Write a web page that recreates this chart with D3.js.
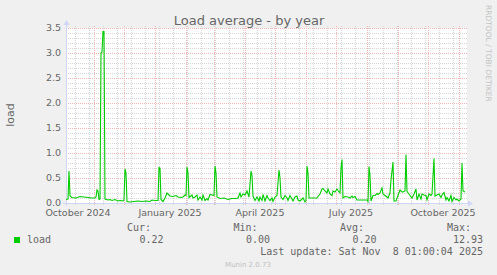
<!DOCTYPE html>
<html><head><meta charset="utf-8">
<script src="https://cdn.jsdelivr.net/npm/d3@7"></script>
<style>html,body{margin:0;padding:0;background:#f0f0f0;}svg{display:block;}</style>
</head><body>
<svg id="chart" width="497" height="275"></svg>
<script>
const title = "Load average - by year";
const yLabel = "load";
const dates = [
"2024-10-04","2024-10-06","2024-10-07","2024-10-08","2024-10-10","2024-10-14","2024-10-18","2024-10-22","2024-10-26","2024-10-30",
"2024-11-02","2024-11-03","2024-11-04","2024-11-05","2024-11-06","2024-11-07","2024-11-08","2024-11-09","2024-11-10","2024-11-11",
"2024-11-12","2024-11-15","2024-11-17","2024-11-19","2024-11-22","2024-11-25","2024-11-27","2024-11-30","2024-12-01","2024-12-02",
"2024-12-03","2024-12-04","2024-12-07","2024-12-11","2024-12-15","2024-12-19","2024-12-23","2024-12-27","2024-12-29","2025-01-01",
"2025-01-04","2025-01-05","2025-01-06","2025-01-07","2025-01-09","2025-01-11","2025-01-13","2025-01-16","2025-01-19","2025-01-22",
"2025-01-24","2025-01-27","2025-01-29","2025-01-31","2025-02-01","2025-02-02","2025-02-03","2025-02-04","2025-02-07","2025-02-08",
"2025-02-10","2025-02-12","2025-02-13","2025-02-15","2025-02-17","2025-02-18","2025-02-20","2025-02-22","2025-02-23","2025-02-25",
"2025-02-27","2025-03-01","2025-03-02","2025-03-03","2025-03-04","2025-03-07","2025-03-11","2025-03-15","2025-03-19","2025-03-23",
"2025-03-25","2025-03-27","2025-03-28","2025-03-30","2025-04-01","2025-04-03","2025-04-05","2025-04-07","2025-04-08","2025-04-09",
"2025-04-11","2025-04-13","2025-04-15","2025-04-16","2025-04-18","2025-04-19","2025-04-21","2025-04-23","2025-04-24","2025-04-26",
"2025-04-28","2025-04-29","2025-05-01","2025-05-03","2025-05-05","2025-05-06","2025-05-07","2025-05-09","2025-05-11","2025-05-13",
"2025-05-14","2025-05-16","2025-05-18","2025-05-19","2025-05-21","2025-05-23","2025-05-24","2025-05-26","2025-05-28","2025-05-29",
"2025-05-31","2025-06-01","2025-06-02","2025-06-03","2025-06-04","2025-06-07","2025-06-12","2025-06-13","2025-06-15","2025-06-17",
"2025-06-18","2025-06-20","2025-06-22","2025-06-23","2025-06-25","2025-06-27","2025-06-28","2025-06-30","2025-07-02","2025-07-03",
"2025-07-05","2025-07-06","2025-07-07","2025-07-08","2025-07-10","2025-07-13","2025-07-15","2025-07-17","2025-07-18","2025-07-20",
"2025-07-22","2025-08-01","2025-08-02","2025-08-03","2025-08-04","2025-08-05","2025-08-07","2025-08-09","2025-08-11","2025-08-12",
"2025-08-14","2025-08-16","2025-08-17","2025-08-19","2025-08-21","2025-08-22","2025-08-24","2025-08-25","2025-08-27","2025-08-28",
"2025-08-30","2025-09-01","2025-09-03","2025-09-05","2025-09-06","2025-09-08","2025-09-09","2025-09-10","2025-09-12","2025-09-14",
"2025-09-15","2025-09-17","2025-09-19","2025-09-20","2025-09-22","2025-09-24","2025-09-25","2025-09-27","2025-09-29","2025-09-30",
"2025-10-02","2025-10-04","2025-10-05","2025-10-07","2025-10-08","2025-10-10","2025-10-12","2025-10-14","2025-10-15","2025-10-17",
"2025-10-19","2025-10-20","2025-10-22","2025-10-24","2025-10-25","2025-10-27","2025-10-29","2025-10-30","2025-11-01","2025-11-03",
"2025-11-04","2025-11-05","2025-11-07"
];
const loads = [
0.07,0.08,0.64,0.14,0.11,0.10,0.13,0.12,0.11,0.10,
0.10,0.12,0.26,0.24,0.07,0.08,3.00,3.02,3.43,3.43,
0.08,0.06,0.07,0.05,0.07,0.04,0.05,0.04,0.06,0.68,
0.60,0.03,0.02,0.03,0.04,0.03,0.04,0.03,0.06,0.05,
0.05,0.71,0.70,0.07,0.03,0.10,0.20,0.14,0.13,0.15,
0.12,0.11,0.12,0.16,0.15,0.72,0.60,0.11,0.16,0.10,
0.12,0.16,0.06,0.12,0.06,0.16,0.05,0.09,0.06,0.17,
0.16,0.15,0.74,0.60,0.12,0.09,0.10,0.07,0.09,0.09,
0.10,0.20,0.12,0.18,0.16,0.24,0.12,0.64,0.55,0.14,
0.05,0.12,0.04,0.12,0.05,0.17,0.04,0.15,0.10,0.05,
0.10,0.03,0.12,0.15,0.66,0.50,0.12,0.07,0.15,0.10,
0.05,0.15,0.08,0.04,0.12,0.14,0.06,0.04,0.08,0.10,
0.02,0.05,0.74,0.60,0.10,0.10,0.10,0.13,0.18,0.28,
0.29,0.24,0.20,0.28,0.18,0.15,0.24,0.22,0.28,0.25,
0.20,0.70,0.87,0.10,0.13,0.12,0.10,0.14,0.11,0.13,
0.06,0.06,0.03,0.73,0.55,0.04,0.15,0.15,0.19,0.17,
0.20,0.30,0.18,0.15,0.12,0.10,0.20,0.46,0.82,0.04,
0.04,0.15,0.26,0.22,0.22,0.24,0.97,0.23,0.18,0.12,
0.10,0.18,0.28,0.06,0.18,0.08,0.18,0.16,0.15,0.06,
0.18,0.15,0.18,0.89,0.14,0.16,0.18,0.11,0.16,0.21,
0.06,0.11,0.04,0.15,0.03,0.11,0.06,0.08,0.04,0.08,
0.80,0.24,0.22
];
const yTicks = [0, 0.5, 1.0, 1.5, 2.0, 2.5, 3.0, 3.5];
const yTickLabels = ["0.0","0.5","1.0","1.5","2.0","2.5","3.0","3.5"];
const xLabelDates = ["2024-10-16","2025-01-16","2025-04-16","2025-07-16","2025-10-16"];
const xLabels = ["October 2024","January 2025","April 2025","July 2025","October 2025"];
const legendName = "load";
const legendHeads = ["Cur:","Min:","Avg:","Max:"];
const legendValues = ["0.22","0.00","0.20","12.93"];
const lastUpdate = "Last update: Sat Nov  8 01:00:04 2025";
const credit = "Munin 2.0.73";
const watermark = "RRDTOOL / TOBI OETIKER";
const rangeStart = "2024-10-04", rangeEnd = "2025-11-08";

const parse = d3.utcParse("%Y-%m-%d");
const svg = d3.select("#chart");
const L = 66, R = 466, T = 28, B = 203;
const x = d3.scaleUtc().domain([parse(rangeStart), parse(rangeEnd)]).range([L, R]);
const y = d3.scaleLinear().domain([0, 3.5]).range([B, T]);

const gridGrey = "#d6d6d6", gridRed = "#f0b6b6", axisCol = "#cfd6f8", font = "#666666";
const sans = "DejaVu Sans", mono = "DejaVu Sans Mono";

svg.append("rect").attr("width",497).attr("height",275).attr("fill","#f0f0f0");
svg.append("rect").attr("x",L).attr("y",T).attr("width",R-L+1).attr("height",B-T).attr("fill","#ffffff");

const grid = svg.append("g").attr("stroke-dasharray","1,1").attr("shape-rendering","crispEdges");
const minorY = d3.range(1, 36).filter(i => i % 5 !== 0).map(i => i / 10);
grid.selectAll(".hm").data(minorY).enter().append("line")
  .attr("x1", L).attr("x2", R+2).attr("y1", d => Math.round(y(d))+0.5).attr("y2", d => Math.round(y(d))+0.5)
  .attr("stroke", gridGrey);
const minorX = [];
for (let t = parse("2025-10-26"); t > x.domain()[0]; t = d3.utcDay.offset(t, -14)) minorX.push(t);
grid.selectAll(".vm").data(minorX).enter().append("line")
  .attr("x1", d => Math.round(x(d))+0.5).attr("x2", d => Math.round(x(d))+0.5).attr("y1", T-2).attr("y2", B+2)
  .attr("stroke", gridGrey);
grid.selectAll(".hM").data(yTicks.filter(d => d > 0)).enter().append("line")
  .attr("x1", L).attr("x2", R+2).attr("y1", d => Math.round(y(d))+0.5).attr("y2", d => Math.round(y(d))+0.5)
  .attr("stroke", gridRed);
const months = d3.utcMonth.range(x.domain()[0], x.domain()[1]);
grid.selectAll(".vM").data(months).enter().append("line")
  .attr("x1", d => Math.round(x(d))+0.5).attr("x2", d => Math.round(x(d))+0.5).attr("y1", T-2).attr("y2", B+2)
  .attr("stroke", gridRed);

svg.append("g").selectAll("text").data(yTicks).enter().append("text")
  .attr("x", 61).attr("y", d => y(d)).attr("dy","0.34em").attr("text-anchor","end")
  .attr("font-family", sans).attr("font-size", 9.5).attr("fill", font)
  .text((d,i) => yTickLabels[i]);
svg.append("g").selectAll("text").data(xLabelDates).enter().append("text")
  .attr("x", d => x(parse(d))).attr("y", 216).attr("text-anchor","middle")
  .attr("font-family", sans).attr("font-size", 9.5).attr("fill", font)
  .text((d,i) => xLabels[i]);

svg.append("line").attr("x1", L+0.5).attr("x2", L+0.5).attr("y1", B+3).attr("y2", T-4).attr("stroke", axisCol);
svg.append("line").attr("x1", L-3).attr("x2", R+3).attr("y1", B+0.5).attr("y2", B+0.5).attr("stroke", axisCol);
svg.append("path").attr("d", `M${L-2.5},${T-3} L${L+3.5},${T-3} L${L+0.5},${T-8} Z`).attr("fill", axisCol);
svg.append("path").attr("d", `M${R+2},${B-2.5} L${R+2},${B+3.5} L${R+7},${B+0.5} Z`).attr("fill", axisCol);

const pts = dates.map((d,i) => ({t: parse(d), v: loads[i]}));
const line = d3.line().x(d => x(d.t)).y(d => y(d.v));
svg.append("path").datum(pts).attr("d", line).attr("fill","none").attr("stroke","#00cc00").attr("stroke-width",1.1);

svg.append("text").attr("x", 249).attr("y", 25).attr("text-anchor","middle")
  .attr("font-family", sans).attr("font-size", 13).attr("fill", font).text(title);
svg.append("text").attr("transform","translate(14,115) rotate(-90)").attr("text-anchor","middle")
  .attr("font-family", sans).attr("font-size", 11).attr("fill", font).text(yLabel);
svg.append("text").attr("transform","translate(486,5) rotate(90)").attr("text-anchor","start")
  .attr("font-family", sans).attr("font-size", 7.5).attr("fill", "#c4c4c4").text(watermark);

svg.append("rect").attr("x",14).attr("y",237).attr("width",6).attr("height",6).attr("fill","#00cc00");
svg.append("text").attr("x",27).attr("y",243).attr("font-family",mono).attr("font-size",10).attr("fill",font).text(legendName);
const headX = [151, 257.5, 364, 471];
const valX = [163.5, 270, 376.5, 483];
svg.append("g").selectAll("text").data(legendHeads).enter().append("text")
  .attr("x",(d,i)=>headX[i]).attr("y",230.5).attr("text-anchor","end")
  .attr("font-family",mono).attr("font-size",10).attr("fill",font).text(d=>d);
svg.append("g").selectAll("text").data(legendValues).enter().append("text")
  .attr("x",(d,i)=>valX[i]).attr("y",243).attr("text-anchor","end")
  .attr("font-family",mono).attr("font-size",10).attr("fill",font).text(d=>d);
svg.append("text").attr("x",483).attr("y",255).attr("text-anchor","end").attr("xml:space","preserve")
  .style("white-space","pre").attr("font-family",mono).attr("font-size",10).attr("fill",font).text(lastUpdate);
svg.append("text").attr("x",248).attr("y",266.5).attr("text-anchor","middle")
  .attr("font-family",sans).attr("font-size",7).attr("fill","#c0c0c0").text(credit);
</script>
</body></html>
